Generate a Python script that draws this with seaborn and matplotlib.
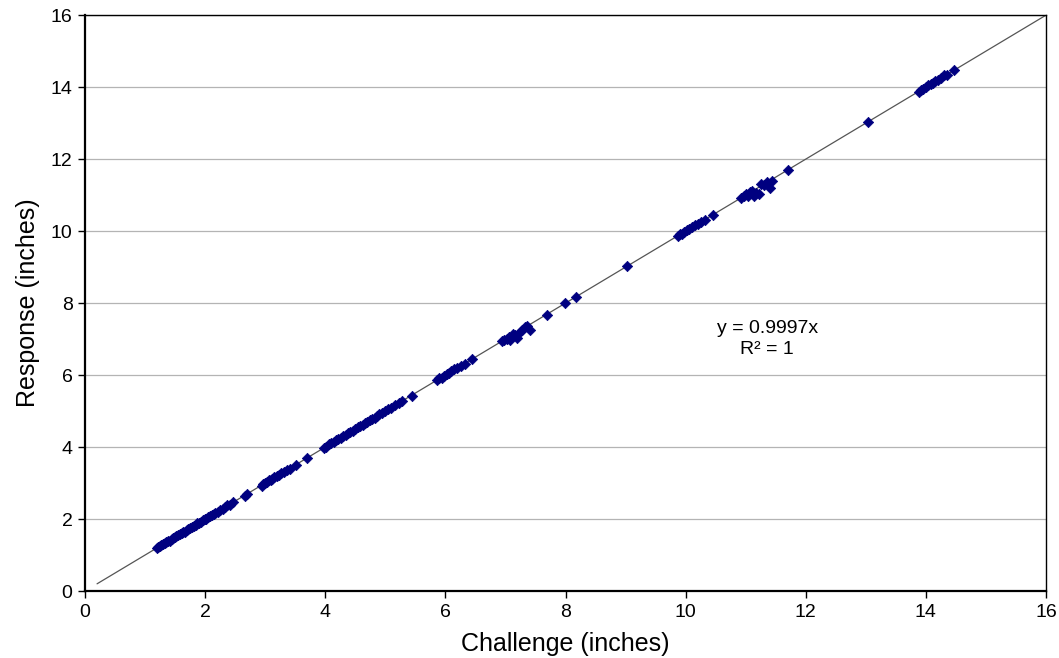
import numpy as np
import pandas as pd
import seaborn as sns
import matplotlib.pyplot as plt

# valores
challenge = [
    1.19, 1.22, 1.25, 1.27, 1.30, 1.33, 1.35, 1.38, 1.41, 1.44, 1.47, 1.50, 1.52, 1.55,
    1.58, 1.61, 1.63, 1.66, 1.69, 1.72, 1.75, 1.78, 1.81, 1.84, 1.87, 1.90, 1.93, 1.96,
    1.99, 2.02, 2.05, 2.08, 2.11, 2.14, 2.17, 2.21, 2.25, 2.29, 2.33, 2.37, 2.41, 2.47,
    2.66, 2.69,
    2.94, 2.97, 3.00, 3.03, 3.06, 3.09, 3.12, 3.15, 3.19, 3.23, 3.27, 3.31, 3.36, 3.41,
    3.52, 3.69,
    3.98, 4.02, 4.06, 4.10, 4.14, 4.18, 4.22, 4.26, 4.30, 4.34, 4.38, 4.42, 4.46, 4.50,
    4.54, 4.58, 4.62, 4.66, 4.70, 4.74, 4.78, 4.82, 4.86, 4.90, 4.95, 5.00, 5.05, 5.10,
    5.16, 5.22, 5.28, 5.44,
    5.86, 5.90, 5.94, 5.98, 6.02, 6.06, 6.10, 6.15, 6.20, 6.26, 6.32, 6.45,
    6.94, 6.98, 7.02, 7.06, 7.08, 7.12, 7.16, 7.20, 7.24, 7.28, 7.32, 7.36, 7.41,
    7.69, 7.99, 8.18, 9.03,
    9.87, 9.90, 9.94, 9.98, 10.02, 10.06, 10.10, 10.15, 10.20, 10.26, 10.32, 10.46,
    10.93, 10.97, 11.00, 11.04, 11.08, 11.10, 11.14, 11.18, 11.22, 11.26, 11.30, 11.35,
    11.40, 11.43,
    11.70, 13.04,
    13.88, 13.92, 13.96, 14.00, 14.04, 14.08, 14.12, 14.16, 14.21, 14.26, 14.31, 14.35,
    14.47,
]
response = [
    1.19, 1.23, 1.24, 1.28, 1.30, 1.32, 1.36, 1.38, 1.40, 1.45, 1.47, 1.49, 1.53, 1.55,
    1.57, 1.62, 1.63, 1.65, 1.70, 1.72, 1.74, 1.79, 1.81, 1.83, 1.88, 1.90, 1.92, 1.97,
    1.99, 2.01, 2.06, 2.08, 2.10, 2.15, 2.17, 2.20, 2.26, 2.28, 2.33, 2.38, 2.40, 2.46,
    2.65, 2.70,
    2.93, 2.98, 3.00, 3.02, 3.07, 3.09, 3.11, 3.16, 3.19, 3.22, 3.28, 3.30, 3.36, 3.40,
    3.51, 3.69,
    3.98, 4.01, 4.07, 4.10, 4.13, 4.19, 4.21, 4.26, 4.31, 4.33, 4.38, 4.43, 4.45, 4.50,
    4.55, 4.57, 4.62, 4.67, 4.69, 4.74, 4.79, 4.81, 4.86, 4.91, 4.94, 5.00, 5.06, 5.09,
    5.16, 5.23, 5.27, 5.43,
    5.85, 5.91, 5.93, 5.98, 6.03, 6.05, 6.10, 6.16, 6.19, 6.26, 6.31, 6.44,
    6.94, 6.97, 7.00, 7.05, 6.98, 7.13, 7.10, 7.02, 7.20, 7.25, 7.33, 7.36, 7.26,
    7.68, 7.99, 8.17, 9.02,
    9.86, 9.91, 9.93, 9.98, 10.03, 10.05, 10.10, 10.16, 10.19, 10.26, 10.31, 10.45,
    10.93, 10.98, 11.02, 10.96, 11.09, 11.12, 10.97, 11.06, 11.03, 11.30, 11.27, 11.36,
    11.19, 11.40,
    11.69, 13.03,
    13.87, 13.93, 13.95, 14.00, 14.05, 14.07, 14.12, 14.17, 14.20, 14.26, 14.32, 14.34,
    14.46,
]
slope = 0.9997
trend_x = [0.2, 16.0]
ticks = [0, 2, 4, 6, 8, 10, 12, 14, 16]

df = pd.DataFrame({'Challenge': challenge, 'Response': response})

sns.set_style('white')
plt.rcParams['font.family'] = ['Liberation Sans', 'DejaVu Sans']
plt.rcParams['text.color'] = 'black'
plt.rcParams['axes.labelcolor'] = 'black'
plt.rcParams['xtick.color'] = 'black'
plt.rcParams['ytick.color'] = 'black'

fig = plt.figure(figsize=(10.59, 6.58), dpi=100)
ax = fig.add_axes([0.0803, 0.1018, 0.9074, 0.8754])

ax.grid(axis='y', color='#b4b4b4', linewidth=0.9)
ax.set_axisbelow(True)

tx = np.array(trend_x)
ax.plot(tx, slope * tx, color='#555555', linewidth=0.9, zorder=2)

sns.scatterplot(data=df, x='Challenge', y='Response', marker='D', s=28,
                color='#000080', edgecolor='#000080', linewidth=0.5, ax=ax, zorder=3)

ax.set_xlim(0, 16)
ax.set_ylim(0, 16)
ax.set_xticks(ticks)
ax.set_yticks(ticks)
ax.tick_params(axis='both', labelsize=14, direction='out', length=5, width=1,
               color='black', bottom=True, left=True, pad=4)
for s in ax.spines.values():
    s.set_color('black')
    s.set_linewidth(1.0)
ax.spines['bottom'].set_linewidth(1.6)
ax.spines['left'].set_linewidth(1.6)

ax.set_xlabel('Challenge (inches)', fontsize=18, labelpad=8)
ax.set_ylabel('Response (inches)', fontsize=18, labelpad=8)

ax.text(11.36, 7.0, 'y = 0.9997x\nR² = 1', fontsize=14, ha='center', va='center',
        linespacing=1.3)

plt.savefig('out.png', dpi=100)
plt.close()
